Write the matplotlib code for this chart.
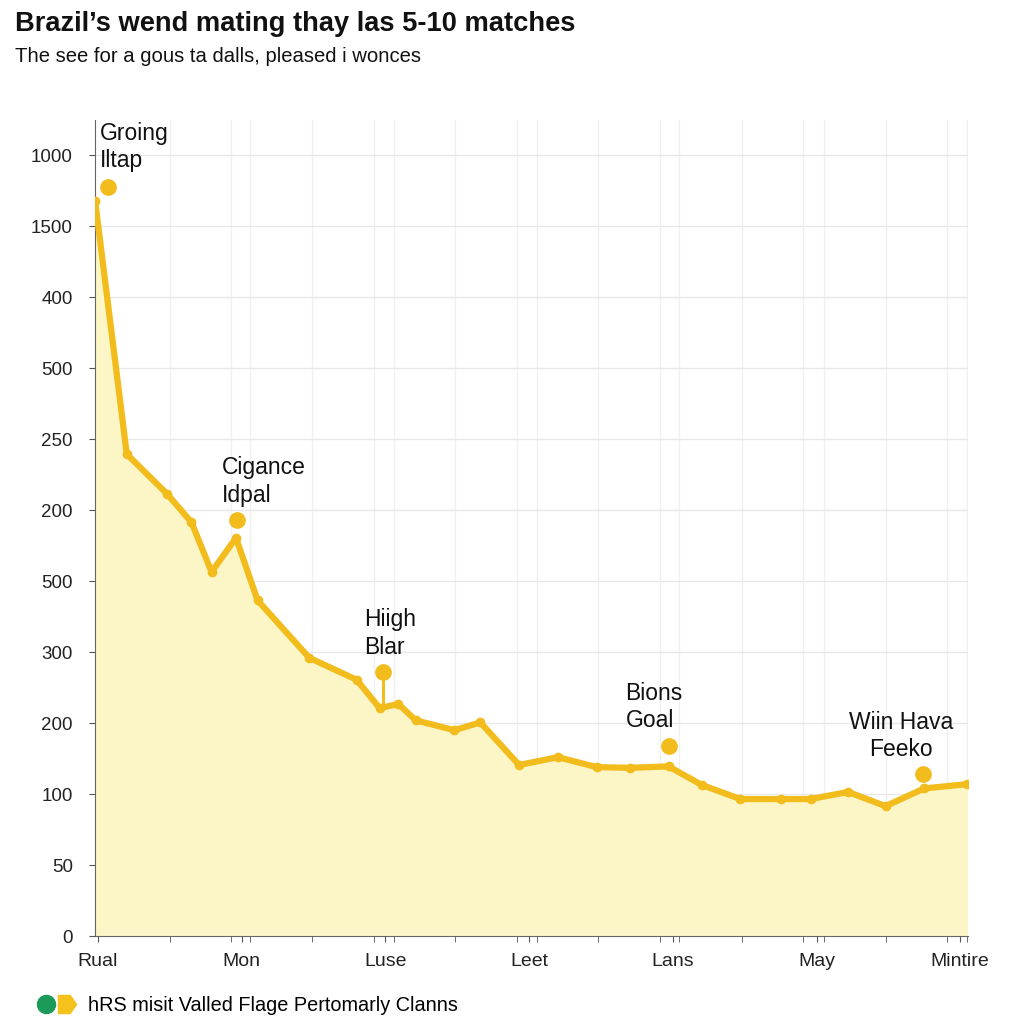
import numpy as np
import matplotlib
matplotlib.use("Agg")
import matplotlib.pyplot as plt
from matplotlib.lines import Line2D
from matplotlib.legend_handler import HandlerTuple

plt.rcParams['font.family'] = ['Liberation Sans', 'DejaVu Sans']

# ---- data (x in category units, y in tick-slot units)
x_vals = [-0.02, 0.20, 0.48, 0.65, 0.79, 0.96, 1.11, 1.47, 1.80, 1.96, 2.09, 2.21,
          2.48, 2.66, 2.93, 3.20, 3.47, 3.70, 3.97, 4.20, 4.47, 4.75, 4.96, 5.22,
          5.48, 5.75, 6.05]
y_vals = [10.35, 6.79, 6.23, 5.83, 5.13, 5.61, 4.73, 3.92, 3.61, 3.21, 3.27, 3.04,
          2.90, 3.01, 2.41, 2.52, 2.38, 2.37, 2.39, 2.13, 1.93, 1.93, 1.93, 2.03,
          1.83, 2.08, 2.14]

x_labels = ["Rual", "Mon", "Luse", "Leet", "Lans", "May", "Mintire"]
y_labels = ["0", "50", "100", "200", "300", "500", "200", "250", "500", "400", "1500", "1000"]

ann_text = ["Groing\nIltap", "Cigance\nIdpal", "Hiigh\nBlar", "Bions\nGoal", "Wiin Hava\nFeeko"]
ann_x = [0.07, 0.97, 1.98, 3.97, 5.74]
ann_y = [10.55, 5.86, 3.72, 2.68, 2.28]
ann_tx = [0.01, 0.86, 1.85, 3.67, 5.59]   # text anchor x
ann_ty = [10.76, 6.05, 3.91, 2.87, 2.46]   # text bottom
ann_ha = ['left', 'left', 'left', 'left', 'center']
stem_to = [None, None, 3.21, None, None]

minor_px = [170, 231, 250, 312, 374, 394, 455, 517, 537, 598, 660, 679, 742, 803, 824, 886, 947, 967]
minor_x = [(p - 98) / 143.7 for p in minor_px]

line_c = '#F1BC1C'
fill_c = '#FCF6C6'

fig = plt.figure(figsize=(10.24, 10.24), dpi=100)
ax = fig.add_axes([0.0928, 0.0859, 0.8525, 0.7971])

ax.fill_between(x_vals, y_vals, 0, color=fill_c, zorder=1, lw=0)
ax.plot(x_vals, y_vals, color=line_c, lw=4.5, marker='o', ms=6, zorder=3,
        solid_joinstyle='round', solid_capstyle='round')

for i in range(len(ann_text)):
    if stem_to[i] is not None:
        ax.plot([ann_x[i], ann_x[i]], [ann_y[i], stem_to[i]], color=line_c, lw=2.2, zorder=3)
    ax.plot(ann_x[i], ann_y[i], 'o', color=line_c, ms=11, zorder=4)
    ax.text(ann_tx[i], ann_ty[i], ann_text[i], fontsize=16.5, color='#111111',
            ha=ann_ha[i], multialignment=ann_ha[i], va='bottom', linespacing=1.25, zorder=5)

ax.set_xlim(-0.021, 6.054)
ax.set_ylim(0, 11.5)
ax.set_xticks(range(len(x_labels)))
ax.set_xticklabels(x_labels, fontsize=14, color='#222222')
ax.set_xticks(minor_x, minor=True)
ax.set_yticks(range(len(y_labels)))
ax.set_yticklabels(y_labels, fontsize=13.5, color='#222222')

ax.tick_params(axis='both', which='major', length=4, color='#555555')
ax.tick_params(axis='x', which='minor', length=4, color='#555555')
ax.tick_params(axis='y', pad=12)
ax.tick_params(axis='x', pad=8)

ax.grid(axis='y', color='#e8e8e8', lw=1)
ax.grid(axis='x', which='minor', color='#f0f0f0', lw=1)
ax.set_axisbelow(True)
for s in ['top', 'right']:
    ax.spines[s].set_visible(False)
ax.spines['left'].set_color('#666666')
ax.spines['bottom'].set_color('#666666')

fig.text(0.015, 0.977, "Brazil\u2019s wend mating thay las 5-10 matches", fontsize=19.6,
         fontweight='bold', ha='left', va='center', color='#111111')
fig.text(0.015, 0.945, "The see for a gous ta dalls, pleased i wonces", fontsize=14.6,
         ha='left', va='center', color='#111111')

# legend with two markers in front of one label
arrow = [(-1, -1), (0.3, -1), (1, 0), (0.3, 1), (-1, 1), (-1, -1)]
h1 = Line2D([], [], marker='o', color='#1B9A5A', ls='none', ms=13)
h2 = Line2D([], [], marker=arrow, color='#F5C11C', ls='none', ms=13)
fig.legend(handles=[(h1, h2)], labels=["hRS misit Valled Flage Pertomarly Clanns"],
           handler_map={tuple: HandlerTuple(ndivide=None, pad=0.1)},
           loc='center left', bbox_to_anchor=(0.018, 0.018), frameon=False,
           fontsize=14.3, handlelength=2.0, handletextpad=0.6)

fig.savefig('out.png', dpi=100, facecolor='white')
